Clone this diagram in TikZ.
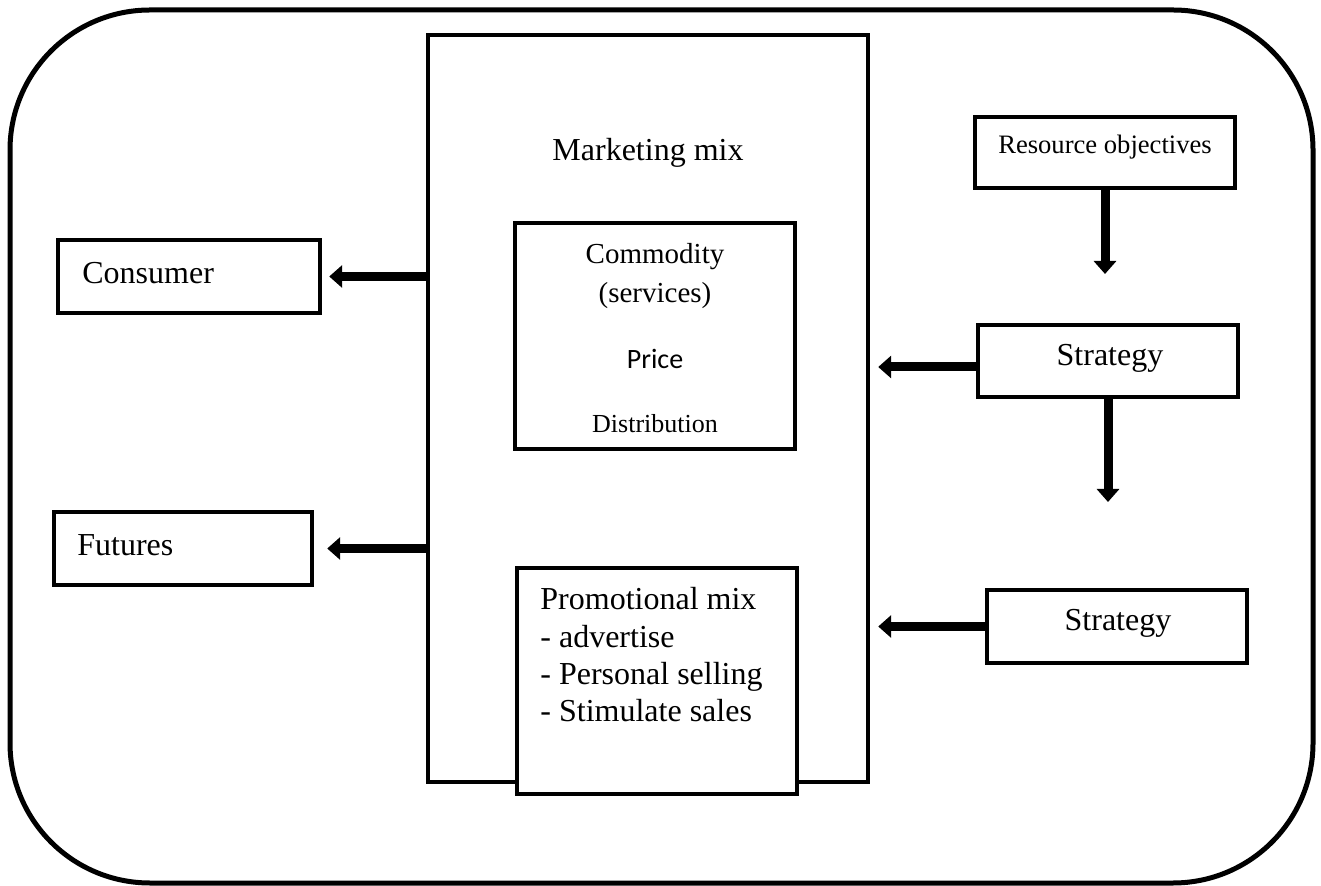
\documentclass[tikz,border=0pt]{standalone}
\usepackage{fontspec}
\setmainfont{Liberation Serif}
\newfontfamily\carlito{Carlito}
\usetikzlibrary{arrows.meta,calc}
\tikzset{
  box/.style={draw, line width=2.2pt, fill=white, inner sep=0pt},
  lbl/.style={inner sep=0pt, font=\fontsize{16pt}{18.5pt}\selectfont},
  arr/.style={line width=4.5pt, -{Triangle[length=6.5pt,width=11pt]}}
}
\begin{document}
\begin{tikzpicture}[x=0.5pt,y=-0.5pt]
\useasboundingbox (0,0) rectangle (1321,886);
% outer frame
\node[draw, line width=2.5pt, rounded corners=70pt, minimum width=651.5pt, minimum height=436.5pt, inner sep=0pt] (frame) at (661.5,446.5) {};
% boxes
\node[box, minimum width=220pt, minimum height=373.5pt] (mm) at (648,408.5) {};
\node[box, minimum width=131pt, minimum height=36.5pt] (cons) at (189,276.5) {};
\node[box, minimum width=129pt, minimum height=36.5pt] (fut) at (183,548.5) {};
\node[box, minimum width=140pt, minimum height=113pt] (com) at (655,336) {};
\node[box, minimum width=140pt, minimum height=113pt] (promo) at (657,681) {};
\node[box, minimum width=130pt, minimum height=35.5pt] (ro) at (1105,152.5) {};
\node[box, minimum width=130pt, minimum height=36pt] (s1) at (1108,361) {};
\node[box, minimum width=130pt, minimum height=36.5pt] (s2) at (1117,626.5) {};
% texts
\node[lbl, anchor=base] (tmm) at (648,161) {Marketing mix};
\node[lbl, anchor=base west] (tcons) at (82,284) {Consumer};
\node[lbl, anchor=base west] (tfut) at (77,556) {Futures};
\node[lbl, anchor=base, font=\fontsize{14.5pt}{17pt}\selectfont] (tcom1) at (655,264) {Commodity};
\node[lbl, anchor=base, font=\fontsize{14.5pt}{17pt}\selectfont] (tcom2) at (655,303) {(services)};
\node[lbl, anchor=base, font=\carlito\fontsize{14pt}{17pt}\selectfont] (tprice) at (655,369) {Price};
\node[lbl, anchor=base, font=\fontsize{13pt}{15pt}\selectfont] (tdist) at (655,433) {Distribution};
\node[lbl, anchor=base, font=\fontsize{13.3pt}{15pt}\selectfont] (tro) at (1105,154) {Resource objectives};
\node[lbl, anchor=base] (ts1) at (1110,366) {Strategy};
\node[lbl, anchor=base] (ts2) at (1118,631) {Strategy};
\node[lbl, anchor=base west] (tp1) at (540,610) {Promotional mix};
\node[lbl, anchor=base west] (tp2) at (540,647) {- advertise};
\node[lbl, anchor=base west] (tp3) at (540,684) {- Personal selling};
\node[lbl, anchor=base west] (tp4) at (540,721) {- Stimulate sales};
% free arrow ends
\coordinate (rotip) at (1105,274);
\coordinate (s1tip) at (1108,502);
% arrows
\draw[arr] (cons.east -| mm.west) -- ($(cons.east)+(3.5pt,0)$);
\draw[arr] (fut.east -| mm.west) -- ($(fut.east)+(6.5pt,0)$);
\draw[arr] (ro.south) -- (rotip);
\draw[arr] ($(s1.west)+(0,-3pt)$) -- ($(s1.west -| mm.east)+(4pt,-3pt)$);
\draw[arr] (s1.south) -- (s1tip);
\draw[arr] (s2.west) -- ($(s2.west -| mm.east)+(4pt,0)$);
\end{tikzpicture}
\end{document}
